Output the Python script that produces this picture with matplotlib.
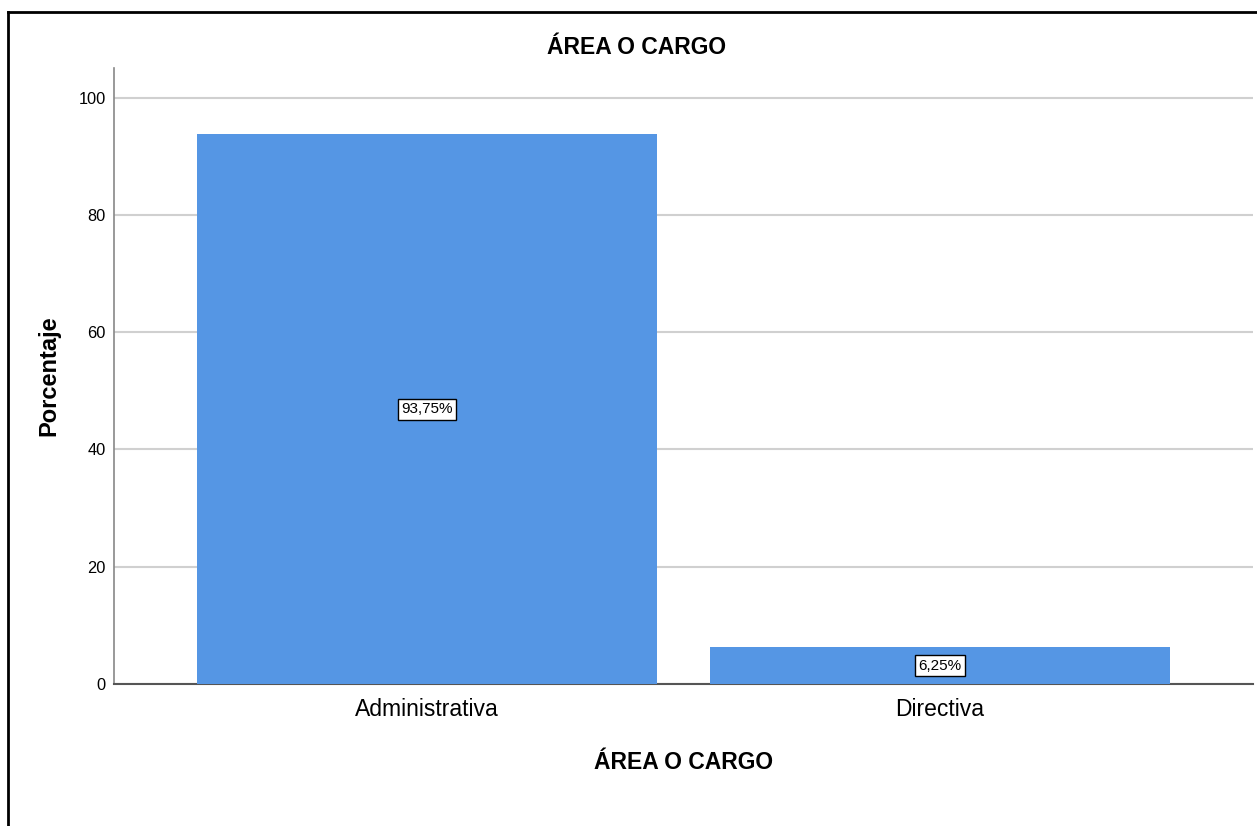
import matplotlib
matplotlib.use("Agg")
import matplotlib.pyplot as plt
from matplotlib.lines import Line2D

plt.rcParams["font.family"] = ["Liberation Sans", "DejaVu Sans"]

categories = ["Administrativa", "Directiva"]
percentages = [93.75, 6.25]
value_labels = ["93,75%", "6,25%"]
yticks = [0, 20, 40, 60, 80, 100]

fig = plt.figure(figsize=(12.57, 8.26), dpi=100)
ax = fig.add_axes([0.0907, 0.1719, 0.906, 0.746])

x = list(range(len(categories)))
bars = ax.bar(x, percentages, width=0.897, color="#5596e4", zorder=3)

for b, val, lab in zip(bars, percentages, value_labels):
    ax.text(b.get_x() + b.get_width() / 2, val / 2, lab, ha="center", va="center",
            fontsize=11, zorder=4,
            bbox=dict(boxstyle="square,pad=0.22", fc="white", ec="black", lw=1))

ax.set_xlim(-0.61, 1.61)
ax.set_ylim(0, 105.1)
ax.set_yticks(yticks)
ax.set_xticks(x)
ax.set_xticklabels(categories, fontsize=16.5)
ax.tick_params(axis="y", labelsize=11.8, length=0, pad=6)
ax.tick_params(axis="x", length=0, pad=10)
ax.grid(True, axis="y", color="#d0d0d0", lw=1.5, zorder=0)

for s in ["top", "right"]:
    ax.spines[s].set_visible(False)
ax.spines["left"].set_color("#888888")
ax.spines["bottom"].set_color("#555555")
ax.spines["left"].set_linewidth(1.2)
ax.spines["bottom"].set_linewidth(1.5)

fig.text(637 / 1257, 1 - 47 / 826, "ÁREA O CARGO", fontsize=16.5, fontweight="bold",
         ha="center", va="center")
ax.set_xlabel("ÁREA O CARGO", fontsize=16.5, fontweight="bold", labelpad=22)
ax.set_ylabel("Porcentaje", fontsize=17, fontweight="bold", labelpad=13)

# screenshot frame (left and top edges)
fig.add_artist(Line2D([8 / 1257, 8 / 1257], [0, 1 - 12 / 826], color="black", lw=2))
fig.add_artist(Line2D([8 / 1257, 1], [1 - 12 / 826, 1 - 12 / 826], color="black", lw=2))

fig.savefig("out.png", dpi=100)
